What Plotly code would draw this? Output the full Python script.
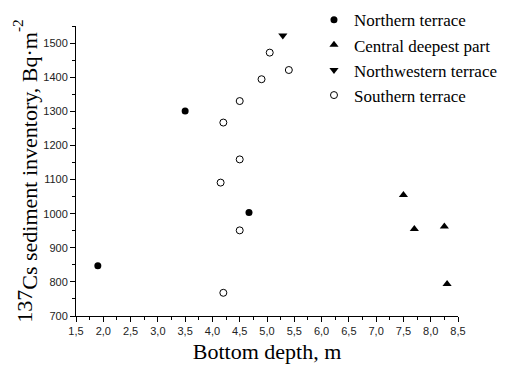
import plotly.graph_objects as go

northern_x = [1.9, 3.5, 4.67]
northern_y = [847, 1301, 1003]
central_x = [7.5, 7.7, 8.25, 8.3]
central_y = [1055, 955, 962, 794]
northwestern_x = [5.29]
northwestern_y = [1522]
southern_x = [4.2, 4.15, 4.5, 4.5, 4.2, 4.5, 4.9, 5.05, 5.4]
southern_y = [768, 1091, 951, 1159, 1267, 1330, 1394, 1472, 1421]

x_ticks = [1.5, 2.0, 2.5, 3.0, 3.5, 4.0, 4.5, 5.0, 5.5, 6.0, 6.5, 7.0, 7.5, 8.0, 8.5]
x_ticklabels = ["1,5", "2,0", "2,5", "3,0", "3,5", "4,0", "4,5", "5,0", "5,5", "6,0", "6,5", "7,0", "7,5", "8,0", "8,5"]
y_ticks = [700, 800, 900, 1000, 1100, 1200, 1300, 1400, 1500]

serif = "Liberation Serif"

fig = go.Figure()
fig.add_trace(go.Scatter(x=northern_x, y=northern_y, mode="markers", name="Northern terrace",
                         marker=dict(symbol="circle", size=7, color="black")))
fig.add_trace(go.Scatter(x=central_x, y=central_y, mode="markers", name="Central deepest part",
                         marker=dict(symbol="triangle-up", size=8, color="black")))
fig.add_trace(go.Scatter(x=northwestern_x, y=northwestern_y, mode="markers", name="Northwestern terrace",
                         marker=dict(symbol="triangle-down", size=8, color="black")))
fig.add_trace(go.Scatter(x=southern_x, y=southern_y, mode="markers", name="Southern terrace",
                         marker=dict(symbol="circle-open", size=7, color="black", line=dict(width=1))))

tickfont = dict(family="Liberation Sans", size=11, color="#222")
fig.update_layout(
    width=525, height=367,
    margin=dict(l=76, r=67, t=26, b=51, autoexpand=False),
    paper_bgcolor="white", plot_bgcolor="white",
    showlegend=True,
    legend=dict(x=0.623, y=1.082, xanchor="left", yanchor="top",
                font=dict(family=serif, size=17, color="black"),
                bgcolor="rgba(0,0,0,0)", borderwidth=0, itemwidth=30, tracegroupgap=0),
    xaxis=dict(range=[1.5, 8.5], tickvals=x_ticks, ticktext=x_ticklabels, automargin=False,
               showgrid=False, zeroline=False, showline=True, linecolor="black", linewidth=1,
               ticks="outside", ticklen=5, tickcolor="black", tickwidth=1, tickfont=tickfont,
               minor=dict(dtick=0.25, ticks="outside", ticklen=3, tickcolor="black", tickwidth=1, showgrid=False),
               title=dict(text="Bottom depth, m", font=dict(family=serif, size=22, color="black"), standoff=7)),
    yaxis=dict(range=[700, 1550], tickvals=y_ticks, automargin=False,
               showgrid=False, zeroline=False, showline=True, linecolor="black", linewidth=1,
               ticks="outside", ticklen=5, tickcolor="black", tickwidth=1, tickfont=tickfont,
               minor=dict(dtick=50, ticks="outside", ticklen=3, tickcolor="black", tickwidth=1, showgrid=False),
               title=dict(text="137<sub><span style=\"font-size:22px\">Cs sediment inventory, Bq·m</span></sub><sup>-2</sup>",
                          font=dict(family=serif, size=22, color="black"), standoff=4)),
)
fig.write_html("out.html")
